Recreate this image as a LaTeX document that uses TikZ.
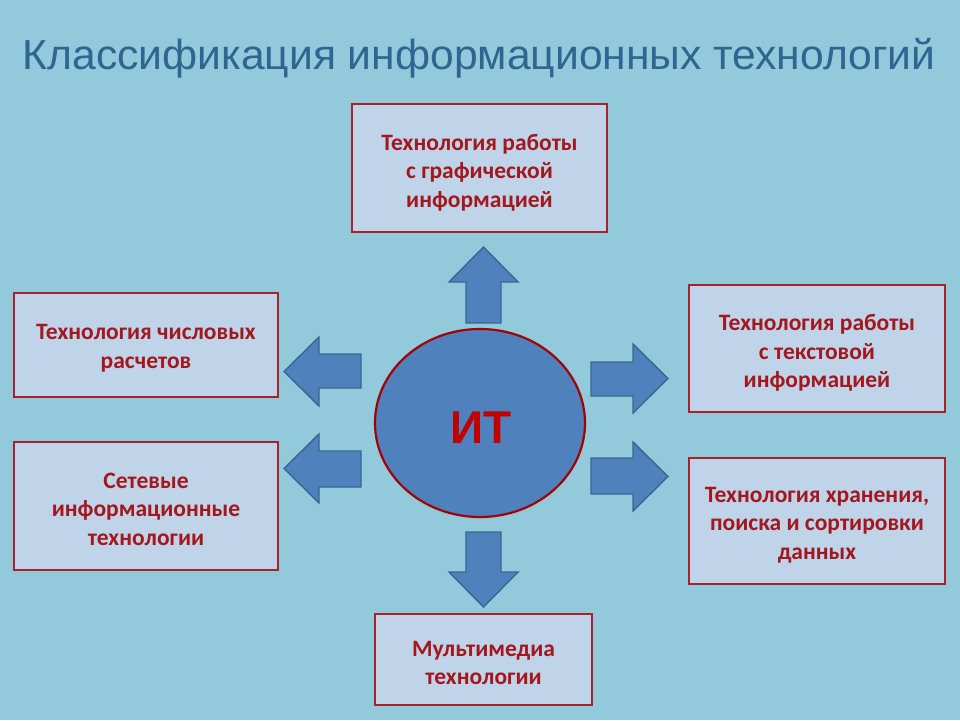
\documentclass[tikz,border=0pt]{standalone}
\usepackage{fontspec}
\setmainfont{Carlito}
\newfontfamily\titlefont[FakeStretch=1.015]{Liberation Sans}
\newfontfamily\itfont{Liberation Sans}
\definecolor{bgc}{HTML}{92C9DB}
\definecolor{boxfill}{HTML}{BFD3E9}
\definecolor{boxline}{HTML}{A8222B}
\definecolor{boxtext}{HTML}{A3171D}
\definecolor{blu}{HTML}{4F81BD}
\definecolor{bluline}{HTML}{3A6792}
\definecolor{titlec}{HTML}{2E6591}
\definecolor{itred}{HTML}{C00000}
\tikzset{
  infobox/.style={draw=boxline, line width=2.2pt, fill=boxfill, inner sep=0pt},
  infotext/.style={text=boxtext, font=\fontsize{23.5}{28.5}\selectfont\bfseries,
    align=center, inner sep=0pt},
  blockarrow/.style={fill=blu, draw=bluline, line width=1.4pt, line join=miter},
}
\begin{document}
\begin{tikzpicture}[x=1pt,y=-1pt]
\fill[bgc] (0,0) rectangle (960,720);
\useasboundingbox (0,0) rectangle (960,720);

\node[text=titlec, font=\titlefont\fontsize{42}{46}\selectfont, anchor=base] (title) at (479,69) {Классификация информационных технологий};

% boxes
\node[infobox, minimum width=255pt, minimum height=128pt] (top) at (479.5,168) {};
\node[infobox, minimum width=264pt, minimum height=104pt] (l1) at (146,345) {};
\node[infobox, minimum width=264pt, minimum height=128pt] (l2) at (146,506) {};
\node[infobox, minimum width=256pt, minimum height=127pt] (r1) at (817,348.5) {};
\node[infobox, minimum width=256pt, minimum height=126pt] (r2) at (817,521) {};
\node[infobox, minimum width=217pt, minimum height=91pt] (bot) at (483.5,659.5) {};

\node[infotext] (topt) at ([yshift=-4.5pt]top.center) {Технология работы\\с графической\\информацией};
\node[infotext] (l1t) at ([yshift=-3pt]l1.center) {Технология числовых\\расчетов};
\node[infotext] (l2t) at ([yshift=-3pt]l2.center) {Сетевые\\информационные\\технологии};
\node[infotext] (r1t) at ([yshift=-4.5pt]r1.center) {Технология работы\\с текстовой\\информацией};
\node[infotext] (r2t) at ([yshift=-4pt]r2.center) {Технология хранения,\\поиска и сортировки\\данных};
\node[infotext] (bott) at ([yshift=-3.5pt]bot.center) {Мультимедиа\\технологии};

% center ellipse
\draw[fill=blu, draw=itred!85!black, line width=2.2pt] (480,423) ellipse [x radius=105, y radius=94];
\node[text=itred, font=\itfont\fontsize{46}{50}\selectfont\bfseries] (it) at (481,428) {ИТ};

% arrows
\draw[blockarrow] (466,323) -- (466,282) -- (449,282) -- (483.5,247) -- (518,282) -- (501,282) -- (501,323) -- cycle;
\draw[blockarrow] (466,532) -- (466,572) -- (449,572) -- (483.5,607) -- (518,572) -- (501,572) -- (501,532) -- cycle;
\draw[blockarrow] (361,354) -- (319,354) -- (319,337) -- (284,371.5) -- (319,406) -- (319,388) -- (361,388) -- cycle;
\draw[blockarrow] (361,451) -- (319,451) -- (319,434) -- (284,468.5) -- (319,503) -- (319,487) -- (361,487) -- cycle;
\draw[blockarrow] (591,362) -- (633,362) -- (633,344) -- (668,378.5) -- (633,413) -- (633,396) -- (591,396) -- cycle;
\draw[blockarrow] (591,458) -- (633,458) -- (633,442) -- (668,476.5) -- (633,511) -- (633,494) -- (591,494) -- cycle;
\end{tikzpicture}
\end{document}
